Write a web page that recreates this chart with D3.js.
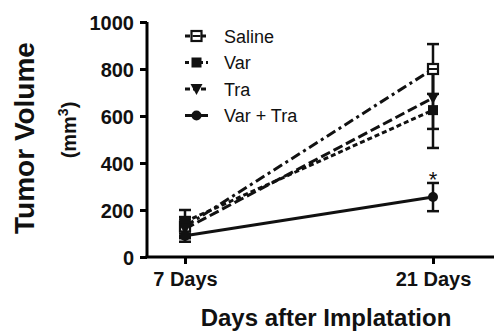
<!DOCTYPE html>
<html>
<head>
<meta charset="utf-8">
<script src="https://cdn.jsdelivr.net/npm/d3@7"></script>
<style>
  body { margin: 0; background: #fff; }
  text { font-family: "Liberation Sans", Arial, sans-serif; }
</style>
</head>
<body>
<div id="chart"></div>
<script>
const days = ["7 Days", "21 Days"];
const yTicks = [0, 200, 400, 600, 800, 1000];

// mean and error per day
const saline = [130, 800];
const salineErr = [40, 106];
const vari = [150, 625];
const variErr = [50, 161];
const tra = [120, 677];
const traErr = [40, 132];
const varTra = [90, 255];
const varTraErr = [25, 60];

const series = [
  {name: "Saline", values: saline, err: salineErr, dash: "10,4,3,4", symbol: "open"},
  {name: "Var", values: vari, err: variErr, dash: "5,3", symbol: "square"},
  {name: "Tra", values: tra, err: traErr, dash: "10,4", symbol: "triangle"},
  {name: "Var + Tra", values: varTra, err: varTraErr, dash: null, symbol: "circle"}
];

const width = 494, height = 332;
const margin = {top: 22, right: 0, bottom: 75, left: 147};

const svg = d3.select("#chart").append("svg")
    .attr("width", width)
    .attr("height", height);

const x = d3.scalePoint().domain(days).range([185, 433]);
const y = d3.scaleLinear().domain([0, 1000]).range([height - margin.bottom, margin.top]);

// axes
const yAxis = svg.append("g")
    .attr("transform", `translate(${margin.left},0)`)
    .call(d3.axisLeft(y).tickValues(yTicks).tickFormat(d3.format("d")).tickSize(7).tickPadding(6));
yAxis.select(".domain").attr("stroke-width", 3).attr("d", `M0,${y(1000)}V${y(0)}`);
yAxis.selectAll(".tick line").attr("stroke-width", 3);
yAxis.selectAll(".tick text").attr("font-size", 20).attr("font-weight", "bold").attr("fill", "#111").attr("dy", "0.36em");

const xAxis = svg.append("g")
    .attr("transform", `translate(0,${y(0)})`)
    .call(d3.axisBottom(x).tickSize(7).tickPadding(8));
xAxis.select(".domain").attr("stroke-width", 3).attr("d", `M${margin.left - 1.5},0H${width}`);
xAxis.selectAll(".tick line").attr("stroke-width", 3);
xAxis.selectAll(".tick text").attr("font-size", 20).attr("font-weight", "bold").attr("fill", "#111");

// titles
svg.append("text")
    .attr("transform", `translate(34,138) rotate(-90)`)
    .attr("text-anchor", "middle")
    .attr("font-size", 28).attr("font-weight", "bold").attr("fill", "#111")
    .text("Tumor Volume");
const mm = svg.append("text")
    .attr("transform", `translate(76,130) rotate(-90)`)
    .attr("text-anchor", "middle")
    .attr("font-size", 20).attr("font-weight", "bold").attr("fill", "#111");
mm.append("tspan").text("(mm");
mm.append("tspan").attr("font-size", 14).attr("dy", -8).text("3");
mm.append("tspan").attr("dy", 8).text(")");

svg.append("text")
    .attr("x", 326).attr("y", 326)
    .attr("text-anchor", "middle")
    .attr("font-size", 24).attr("font-weight", "bold").attr("fill", "#111")
    .text("Days after Implatation");

const line = d3.line().x((d, i) => x(days[i])).y(d => y(d));

function drawSymbol(g, type, cx, cy) {
  if (type === "open") {
    g.append("rect").attr("x", cx - 5).attr("y", cy - 5).attr("width", 10).attr("height", 10)
      .attr("fill", "#fff").attr("stroke", "#111").attr("stroke-width", 2.2);
    g.append("line").attr("x1", cx - 4).attr("x2", cx + 4).attr("y1", cy).attr("y2", cy)
      .attr("stroke", "#111").attr("stroke-width", 2);
  } else if (type === "square") {
    g.append("rect").attr("x", cx - 5).attr("y", cy - 5).attr("width", 10).attr("height", 10).attr("fill", "#111");
  } else if (type === "triangle") {
    g.append("path").attr("d", `M${cx - 6},${cy - 5}L${cx + 6},${cy - 5}L${cx},${cy + 6}Z`).attr("fill", "#111");
  } else {
    g.append("circle").attr("cx", cx).attr("cy", cy).attr("r", 5).attr("fill", "#111");
  }
}

// lines
series.forEach(s => {
  svg.append("path")
    .attr("d", line(s.values))
    .attr("fill", "none").attr("stroke", "#111").attr("stroke-width", 3)
    .attr("stroke-dasharray", s.dash);
});

// error bars
series.forEach(s => {
  s.values.forEach((v, i) => {
    const cx = x(days[i]);
    const g = svg.append("g").attr("stroke", "#111").attr("stroke-width", 2.5);
    g.append("line").attr("x1", cx).attr("x2", cx).attr("y1", y(v - s.err[i])).attr("y2", y(v + s.err[i]));
    [v - s.err[i], v + s.err[i]].forEach(e => {
      g.append("line").attr("x1", cx - 6).attr("x2", cx + 6).attr("y1", y(e)).attr("y2", y(e));
    });
  });
});

// markers
series.forEach(s => {
  s.values.forEach((v, i) => drawSymbol(svg.append("g"), s.symbol, x(days[i]), y(v)));
});

// significance
svg.append("text")
    .attr("x", x(days[1])).attr("y", y(varTra[1] + varTraErr[1]) + 4)
    .attr("text-anchor", "middle").attr("font-size", 22).attr("fill", "#111")
    .text("*");

// legend
const legend = svg.append("g");
series.forEach((s, i) => {
  const ly = 36 + i * 26.5;
  legend.append("line").attr("x1", 185).attr("x2", 208).attr("y1", ly).attr("y2", ly)
    .attr("stroke", "#111").attr("stroke-width", 3)
    .attr("stroke-dasharray", s.dash ? (s.symbol === "square" ? "4,3" : "5,3") : null);
  drawSymbol(legend.append("g"), s.symbol, 196.5, ly);
  legend.append("text").attr("x", 224).attr("y", ly + 6.5)
    .attr("font-size", 18).attr("fill", "#111").text(s.name);
});
</script>
</body>
</html>
